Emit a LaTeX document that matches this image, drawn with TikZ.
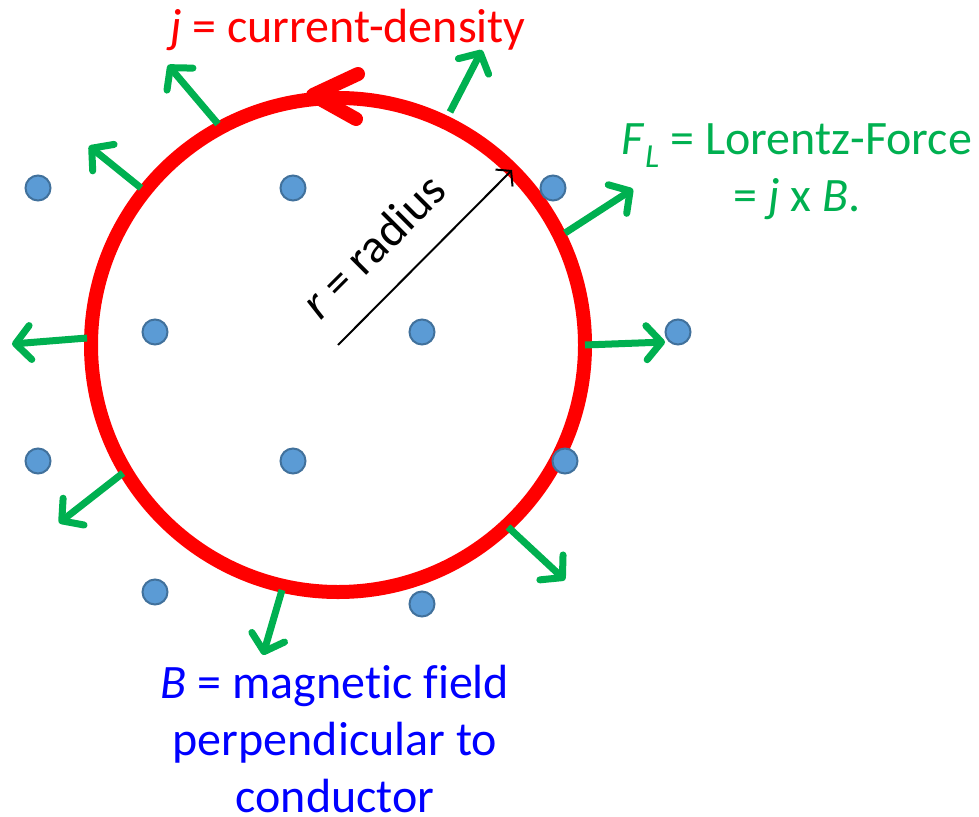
\documentclass[tikz,border=0pt]{standalone}
\usepackage{fontspec}
\setmainfont{Carlito}[Ligatures=NoCommon]
\usepackage{xcolor}
\usepackage{tikz}
\usetikzlibrary{arrows.meta}

\definecolor{wirered}{RGB}{255,0,0}
\definecolor{forcegreen}{RGB}{0,176,80}
\definecolor{fieldblue}{RGB}{0,0,255}
\definecolor{dotfill}{RGB}{91,155,213}
\definecolor{dotline}{RGB}{65,113,156}

\begin{document}
\begin{tikzpicture}[
    x=1pt, y=-1pt,
    dot/.style={draw=dotline, fill=dotfill, line width=2pt, circle, minimum size=25pt, inner sep=0pt},
    force/.style={draw=forcegreen, line width=7pt, -{Straight Barb[length=15pt, width=34pt, round]}},
    label/.style={inner sep=0pt, align=center, font=\fontsize{48}{57}\selectfont}
]
\useasboundingbox (0,0) rectangle (979,816);

% Conductor
\coordinate (c) at (338,345);
\draw[wirered, line width=14pt] (c) circle (247);
\draw[wirered, line width=14pt, line cap=round, line join=round] (358,74) -- (313,95) -- (356,119);

% Radius
\coordinate (rim) at (512,170);
\draw[line width=2pt, -{Straight Barb[length=10pt, width=24pt]}] (c) -- (rim);
\node[label, rotate=45] (rlabel) at (373,246) {\textit{r} = radius};

% Lorentz forces
\coordinate (f1a) at (218,124); \coordinate (f1b) at (168,65);
\coordinate (f2a) at (450,112); \coordinate (f2b) at (482,50);
\coordinate (f3a) at (141,188); \coordinate (f3b) at (89,146);
\coordinate (f4a) at (565,233); \coordinate (f4b) at (633,189);
\coordinate (f5a) at (87,338);  \coordinate (f5b) at (12,344);
\coordinate (f6a) at (585,345); \coordinate (f6b) at (665,342);
\coordinate (f7a) at (123,473); \coordinate (f7b) at (59,523);
\coordinate (f8a) at (508,527); \coordinate (f8b) at (565,580);
\coordinate (f9a) at (282,590); \coordinate (f9b) at (263,655);
\draw[force] (f1a) -- (f1b);
\draw[force] (f2a) -- (f2b);
\draw[force] (f3a) -- (f3b);
\draw[force] (f4a) -- (f4b);
\draw[force] (f5a) -- (f5b);
\draw[force] (f6a) -- (f6b);
\draw[force] (f7a) -- (f7b);
\draw[force] (f8a) -- (f8b);
\draw[force] (f9a) -- (f9b);

% Magnetic field dots
\node[dot] (b1) at (38,188) {};
\node[dot] (b2) at (293,188) {};
\node[dot] (b3) at (553,188) {};
\node[dot] (b4) at (155,332) {};
\node[dot] (b5) at (422,332) {};
\node[dot] (b6) at (678,332) {};
\node[dot] (b7) at (38,461) {};
\node[dot] (b8) at (293,461) {};
\node[dot] (b9) at (565,461) {};
\node[dot] (b10) at (155,592) {};
\node[dot] (b11) at (422,604) {};

% Labels
\node[label, text=wirered, anchor=base] (jlabel) at (348,42) {\textit{j} = current-density};
\node[label, text=forcegreen] (flabel) at (797,172) {\textit{F}\textsubscript{\textit{L}} = Lorentz-Force\\ = \textit{j} x \textit{B}.};
\node[label, text=fieldblue] (blabel) at (335,739) {\textit{B} = magnetic field\\ perpendicular to\\ conductor};

\end{tikzpicture}
\end{document}
